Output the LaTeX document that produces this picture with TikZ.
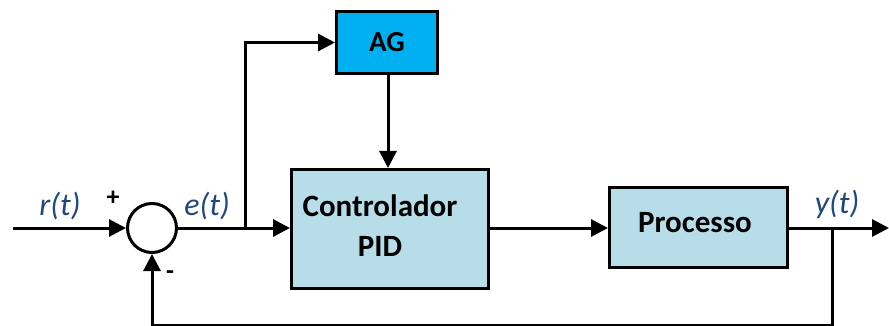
\documentclass[tikz,border=0pt]{standalone}
\usepackage{fontspec}
\setmainfont{Carlito}
\usetikzlibrary{arrows.meta}
\definecolor{agblue}{HTML}{00B0F0}
\definecolor{lblue}{HTML}{B7DEE8}
\definecolor{lbl}{HTML}{1F497D}
\begin{document}
\begin{tikzpicture}[x=1pt,y=-1pt,
  line width=3pt,
  arr/.style={-{Triangle[length=17pt,width=17pt]}},
  blk/.style={draw, line width=3pt, inner sep=0pt, anchor=north west, font=\fontsize{31}{40}\selectfont\bfseries, align=center},
  sig/.style={text=lbl, font=\fontsize{32}{38}\selectfont\itshape}]
\useasboundingbox (0,0) rectangle (889,326);
\node[blk, fill=agblue, minimum width=101pt, minimum height=62pt, font=\fontsize{29}{34}\selectfont\bfseries] (ag) at (335,10) {AG};
\node[blk, fill=lblue, minimum width=197pt, minimum height=119pt] (pid) at (290,168) {};
\node[font=\fontsize{31}{40}\selectfont\bfseries, align=center, inner sep=0pt] (pidt) at (380,226) {Controlador\\PID};
\node[blk, fill=lblue, minimum width=178pt, minimum height=80pt] (proc) at (608,186) {};
\node[font=\fontsize{31}{40}\selectfont\bfseries, inner sep=0pt] (proct) at (695,223) {Processo};
\node[draw, circle, minimum size=49pt, inner sep=0pt] (sum) at (152,228) {};
\coordinate (in) at (13,228);
\coordinate (out) at (889,228);
\coordinate (br) at (245,228);
\coordinate (fb) at (832,228);
\coordinate (bot) at (832,325);
\draw[arr] (in) -- (sum.west);
\draw[arr] (sum.east) -- (pid.west |- sum.east);
\draw[arr] (br) |- (ag.west);
\draw[arr] (ag.south -| 388,0) -- (388,168);
\draw[arr] (pid.east |- sum) -- (proc.west |- sum);
\draw[arr] (proc.east |- sum) -- (out);
\draw[arr] (fb) -- (bot) -| (sum.south);
\node[sig] (r) at (60,206) {r(t)};
\node[sig] (e) at (207,206) {e(t)};
\node[sig] (y) at (837,204) {y(t)};
\node[font=\fontsize{26}{30}\selectfont\bfseries] (plus) at (113,198) {+};
\node[font=\fontsize{26}{30}\selectfont\bfseries] (minus) at (170,275) {-};
\end{tikzpicture}
\end{document}
